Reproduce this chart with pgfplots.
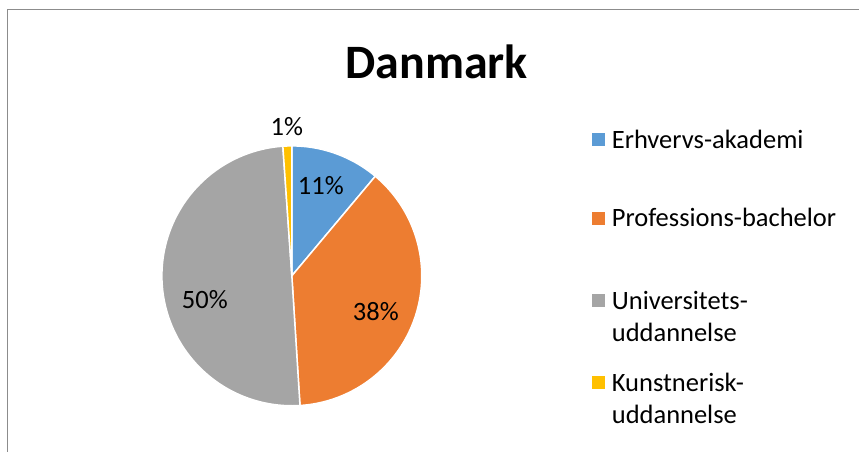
\documentclass[border=0pt]{standalone}
\usepackage{pgfplots}
\usepackage{pgfplotstable}
\pgfplotsset{compat=1.18}
\usepackage{fontspec}
\setmainfont{Carlito}
\definecolor{cBlue}{HTML}{5B9BD5}
\definecolor{cOrange}{HTML}{ED7D31}
\definecolor{cGray}{HTML}{A5A5A5}
\definecolor{cYellow}{HTML}{FFC000}
\definecolor{cBorder}{HTML}{8C8C8C}

\pgfplotstableread{
label value
Erhvervs-akademi 11.1
Professions-bachelor 37.9
Universitets-uddannelse 49.9
Kunstnerisk-uddannelse 1.1
}\piedata

\pgfplotstablegetelem{0}{value}\of\piedata \let\vA\pgfplotsretval
\pgfplotstablegetelem{1}{value}\of\piedata \let\vB\pgfplotsretval
\pgfplotstablegetelem{2}{value}\of\piedata \let\vC\pgfplotsretval
\pgfplotstablegetelem{3}{value}\of\piedata \let\vD\pgfplotsretval
\pgfmathsetmacro{\aA}{90}
\pgfmathsetmacro{\aB}{\aA-3.6*\vA}
\pgfmathsetmacro{\aC}{\aB-3.6*\vB}
\pgfmathsetmacro{\aD}{\aC-3.6*\vC}
\pgfmathsetmacro{\aE}{\aD-3.6*\vD}

\begin{document}
\begin{tikzpicture}
\begin{axis}[
  x=1bp, y=1bp,
  xmin=0, xmax=859, ymin=0, ymax=452,
  hide axis, clip=false,
  scale only axis,
]
\path (rel axis cs:0,0) rectangle (rel axis cs:1,1);
\draw[cBorder, line width=1bp] (axis cs:7.5,0) -- (axis cs:7.5,442) -- (axis cs:859,442);

\addplot[fill=cBlue, draw=white, line width=1.5bp, domain=\aB:\aA, samples=60, variable=\t]
  ({292+130*cos(\t)},{176+130*sin(\t)}) -- (axis cs:292,176) -- cycle;
\addplot[fill=cOrange, draw=white, line width=1.5bp, domain=\aC:\aB, samples=120, variable=\t]
  ({292+130*cos(\t)},{176+130*sin(\t)}) -- (axis cs:292,176) -- cycle;
\addplot[fill=cGray, draw=white, line width=1.5bp, domain=\aD:\aC, samples=160, variable=\t]
  ({292+130*cos(\t)},{176+130*sin(\t)}) -- (axis cs:292,176) -- cycle;
\addplot[fill=cYellow, draw=white, line width=1.5bp, domain=\aE:\aD, samples=10, variable=\t]
  ({292+130*cos(\t)},{176+130*sin(\t)}) -- (axis cs:292,176) -- cycle;

\node[font=\fontsize{48bp}{54bp}\selectfont\bfseries] at (axis cs:437,390) {Danmark};

\node[font=\fontsize{26.5bp}{30bp}\selectfont] at (axis cs:321,266) {11\%};
\node[font=\fontsize{26.5bp}{30bp}\selectfont] at (axis cs:376,140) {38\%};
\node[font=\fontsize{26.5bp}{30bp}\selectfont] at (axis cs:205,152) {50\%};
\node[font=\fontsize{26.5bp}{30bp}\selectfont] at (axis cs:287,325) {1\%};

\fill[cBlue]   (axis cs:592,306) rectangle (axis cs:605,319);
\fill[cOrange] (axis cs:592,227) rectangle (axis cs:605,240);
\fill[cGray]   (axis cs:592,145) rectangle (axis cs:605,158);
\fill[cYellow] (axis cs:592,63) rectangle (axis cs:605,76);
\begin{scope}[every node/.style={font=\fontsize{26.5bp}{32bp}\selectfont, anchor=west, align=left, inner sep=0pt}]
\node at (axis cs:612,313) {Erhvervs-akademi};
\node at (axis cs:612,234) {Professions-bachelor};
\node[anchor=north west] at (axis cs:612,161) {Universitets-\\uddannelse};
\node[anchor=north west] at (axis cs:612,79) {Kunstnerisk-\\uddannelse};
\end{scope}
\end{axis}
\end{tikzpicture}
\end{document}
